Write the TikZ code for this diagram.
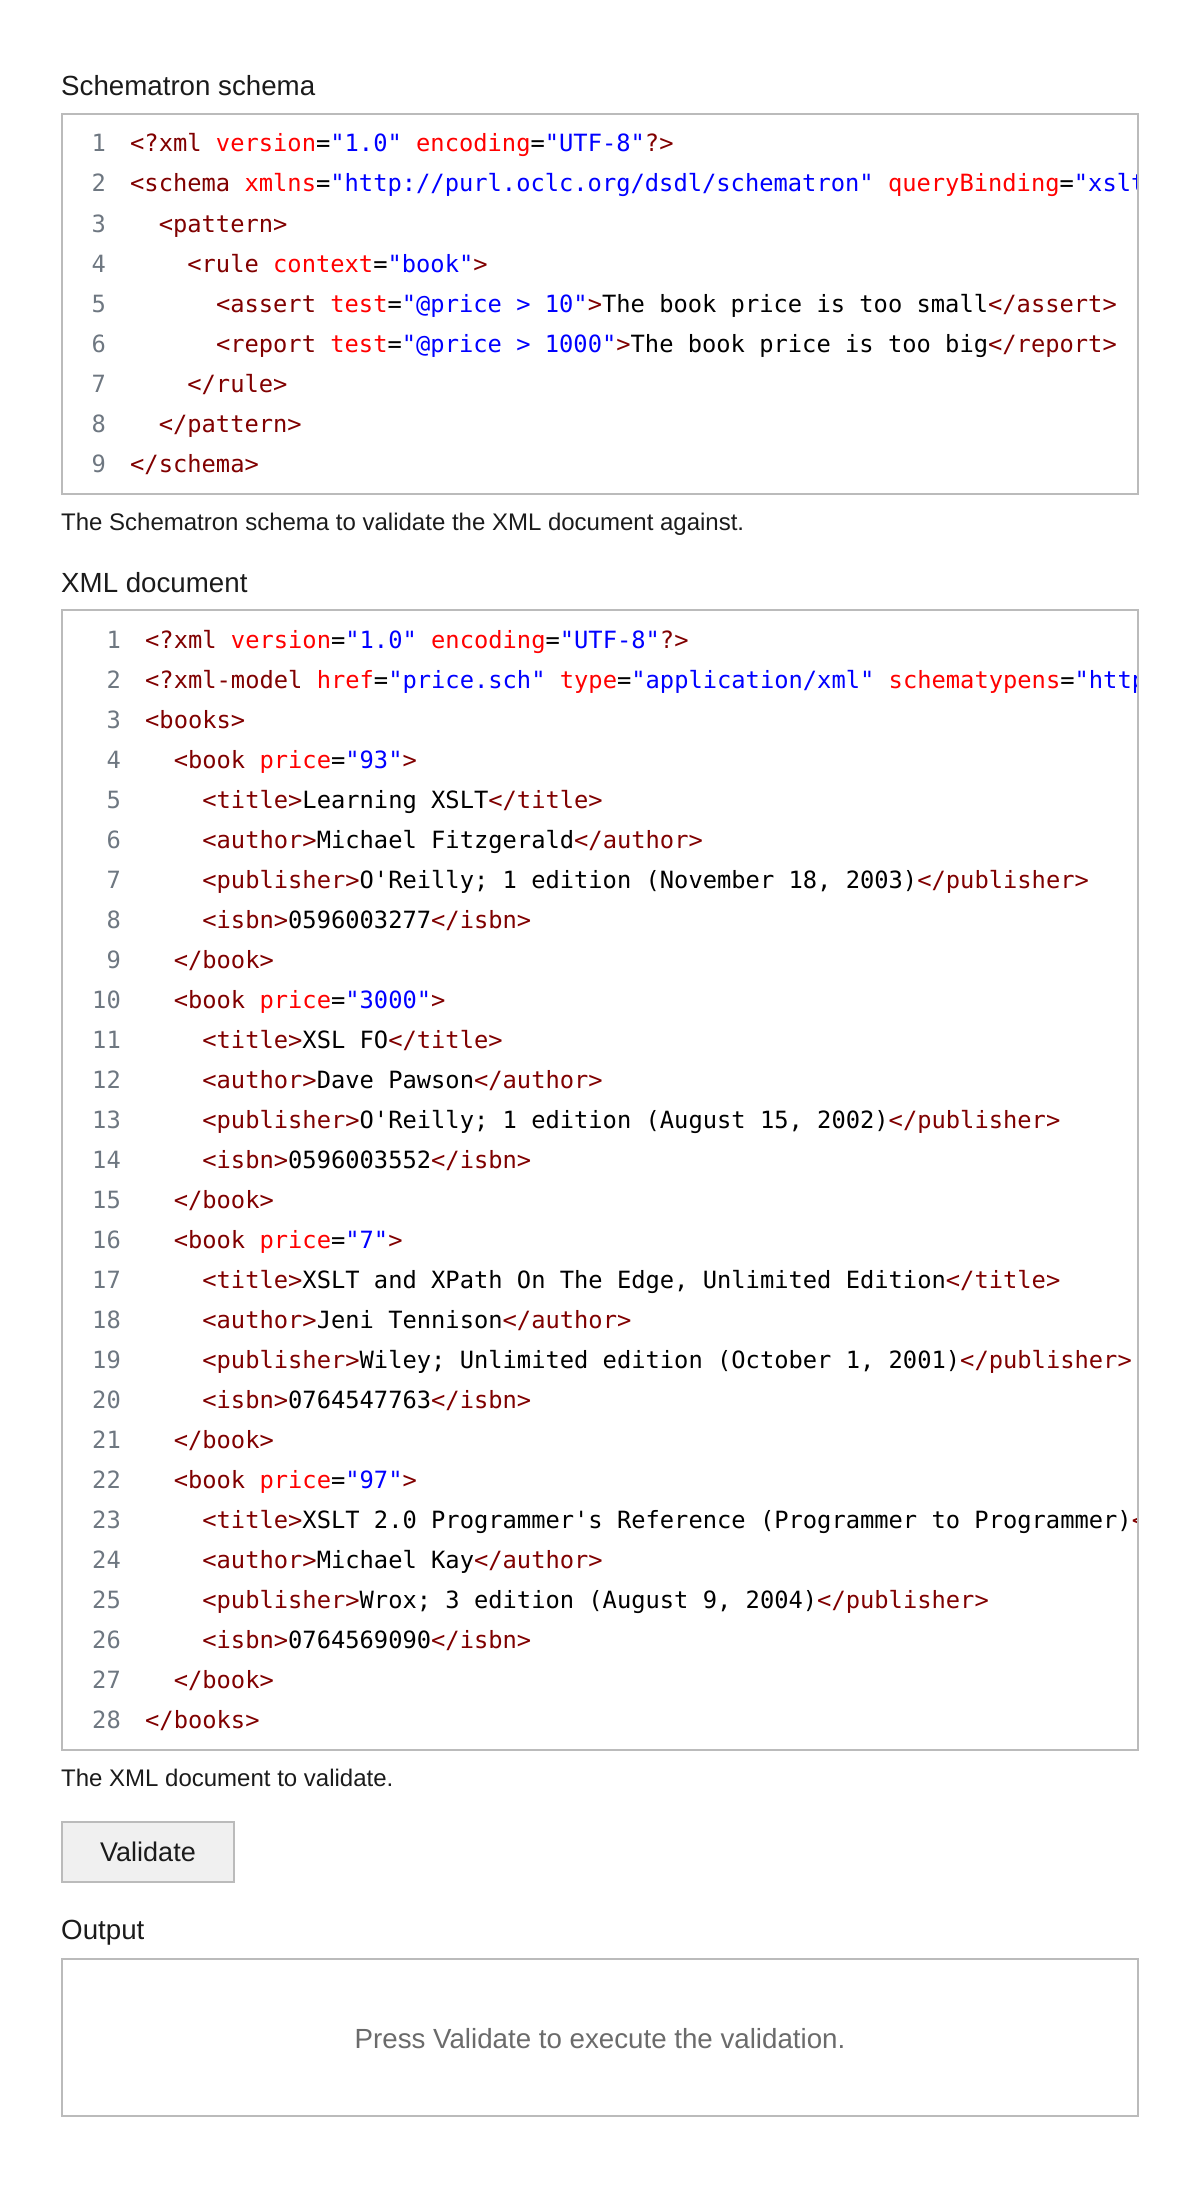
\documentclass[tikz,border=0pt]{standalone}
\usepackage{fontspec}
\setmainfont{Liberation Sans}
\newfontfamily\codefont{DejaVu Sans Mono}[Ligatures=TeXOff]
\definecolor{xmlTagRed}{HTML}{800000}
\definecolor{xmlAttrRed}{HTML}{FF0000}
\definecolor{xmlValBlue}{HTML}{0000FF}
\definecolor{lineNoGray}{HTML}{6E7781}
\definecolor{frameGray}{HTML}{BBBBBB}
\definecolor{buttonFill}{HTML}{F0F0F0}
\definecolor{inkBlack}{HTML}{1B1B1B}
\definecolor{hintGray}{HTML}{6B6B6B}
\newcommand{\xmlTag}[1]{\textcolor{xmlTagRed}{#1}}
\newcommand{\xmlAttr}[1]{\textcolor{xmlAttrRed}{#1}}
\newcommand{\xmlVal}[1]{\textcolor{xmlValBlue}{#1}}
\tikzset{
  codeline/.style={anchor=base west, inner sep=0pt, text=black, font=\codefont\fontsize{23.75}{28}\selectfont},
  lineno/.style={anchor=base east, inner sep=0pt, text=lineNoGray, font=\codefont\fontsize{23.75}{28}\selectfont},
  sectionTitle/.style={anchor=base west, inner sep=0pt, text=inkBlack, font=\fontsize{27.7}{33}\selectfont},
  sectionCaption/.style={anchor=base west, inner sep=0pt, text=inkBlack, font=\fontsize{24}{29}\selectfont},
  codeframe/.style={draw=frameGray, line width=2pt}
}

\begin{document}
\begin{tikzpicture}[x=1pt, y=-1pt]
  \useasboundingbox (0,0) rectangle (1200,2186);

  \node[sectionTitle] (schemaTitle) at (61,96) {Schematron schema};
  \begin{scope}
    \clip (63,115) rectangle (1137,493);
    \foreach \i in {1,...,9}
      \node[lineno] (sn\i) at (106,{152+40*(\i-1)}) {\i};
    \node[codeline] (s1) at (130,152) {\xmlTag{<?xml} \xmlAttr{version}=\xmlVal{"1.0"} \xmlAttr{encoding}=\xmlVal{"UTF-8"}\xmlTag{?>}};
    \node[codeline] (s2) at (130,192) {\xmlTag{<schema} \xmlAttr{xmlns}=\xmlVal{"http://purl.oclc.org/dsdl/schematron"} \xmlAttr{queryBinding}=\xmlVal{"xslt2"}\xmlTag{>}};
    \node[codeline] (s3) at (158.6,232) {\xmlTag{<pattern>}};
    \node[codeline] (s4) at (187.2,272) {\xmlTag{<rule} \xmlAttr{context}=\xmlVal{"book"}\xmlTag{>}};
    \node[codeline] (s5) at (215.8,312) {\xmlTag{<assert} \xmlAttr{test}=\xmlVal{"@price > 10"}\xmlTag{>}The book price is too small\xmlTag{</assert>}};
    \node[codeline] (s6) at (215.8,352) {\xmlTag{<report} \xmlAttr{test}=\xmlVal{"@price > 1000"}\xmlTag{>}The book price is too big\xmlTag{</report>}};
    \node[codeline] (s7) at (187.2,392) {\xmlTag{</rule>}};
    \node[codeline] (s8) at (158.6,432) {\xmlTag{</pattern>}};
    \node[codeline] (s9) at (130,472) {\xmlTag{</schema>}};
  \end{scope}
  \draw[codeframe] (62,114) rectangle (1138,494);
  \node[sectionCaption] (schemaCaption) at (61,530) {The Schematron schema to validate the XML document against.};

  \node[sectionTitle] (docTitle) at (61,592) {XML document};
  \begin{scope}
    \clip (63,611) rectangle (1137,1749);
    \foreach \i in {1,...,28}
      \node[lineno] (dn\i) at (121,{648+40*(\i-1)}) {\i};
    \node[codeline] (d1) at (145,648) {\xmlTag{<?xml} \xmlAttr{version}=\xmlVal{"1.0"} \xmlAttr{encoding}=\xmlVal{"UTF-8"}\xmlTag{?>}};
    \node[codeline] (d2) at (145,688) {\xmlTag{<?xml-model} \xmlAttr{href}=\xmlVal{"price.sch"} \xmlAttr{type}=\xmlVal{"application/xml"} \xmlAttr{schematypens}=\xmlVal{"http://purl.oclc.org/dsdl/schematron"}\xmlTag{?>}};
    \node[codeline] (d3) at (145,728) {\xmlTag{<books>}};
    \node[codeline] (d4) at (173.6,768) {\xmlTag{<book} \xmlAttr{price}=\xmlVal{"93"}\xmlTag{>}};
    \node[codeline] (d5) at (202.2,808) {\xmlTag{<title>}Learning XSLT\xmlTag{</title>}};
    \node[codeline] (d6) at (202.2,848) {\xmlTag{<author>}Michael Fitzgerald\xmlTag{</author>}};
    \node[codeline] (d7) at (202.2,888) {\xmlTag{<publisher>}O'Reilly; 1 edition (November 18, 2003)\xmlTag{</publisher>}};
    \node[codeline] (d8) at (202.2,928) {\xmlTag{<isbn>}0596003277\xmlTag{</isbn>}};
    \node[codeline] (d9) at (173.6,968) {\xmlTag{</book>}};
    \node[codeline] (d10) at (173.6,1008) {\xmlTag{<book} \xmlAttr{price}=\xmlVal{"3000"}\xmlTag{>}};
    \node[codeline] (d11) at (202.2,1048) {\xmlTag{<title>}XSL FO\xmlTag{</title>}};
    \node[codeline] (d12) at (202.2,1088) {\xmlTag{<author>}Dave Pawson\xmlTag{</author>}};
    \node[codeline] (d13) at (202.2,1128) {\xmlTag{<publisher>}O'Reilly; 1 edition (August 15, 2002)\xmlTag{</publisher>}};
    \node[codeline] (d14) at (202.2,1168) {\xmlTag{<isbn>}0596003552\xmlTag{</isbn>}};
    \node[codeline] (d15) at (173.6,1208) {\xmlTag{</book>}};
    \node[codeline] (d16) at (173.6,1248) {\xmlTag{<book} \xmlAttr{price}=\xmlVal{"7"}\xmlTag{>}};
    \node[codeline] (d17) at (202.2,1288) {\xmlTag{<title>}XSLT and XPath On The Edge, Unlimited Edition\xmlTag{</title>}};
    \node[codeline] (d18) at (202.2,1328) {\xmlTag{<author>}Jeni Tennison\xmlTag{</author>}};
    \node[codeline] (d19) at (202.2,1368) {\xmlTag{<publisher>}Wiley; Unlimited edition (October 1, 2001)\xmlTag{</publisher>}};
    \node[codeline] (d20) at (202.2,1408) {\xmlTag{<isbn>}0764547763\xmlTag{</isbn>}};
    \node[codeline] (d21) at (173.6,1448) {\xmlTag{</book>}};
    \node[codeline] (d22) at (173.6,1488) {\xmlTag{<book} \xmlAttr{price}=\xmlVal{"97"}\xmlTag{>}};
    \node[codeline] (d23) at (202.2,1528) {\xmlTag{<title>}XSLT 2.0 Programmer's Reference (Programmer to Programmer)\xmlTag{</title>}};
    \node[codeline] (d24) at (202.2,1568) {\xmlTag{<author>}Michael Kay\xmlTag{</author>}};
    \node[codeline] (d25) at (202.2,1608) {\xmlTag{<publisher>}Wrox; 3 edition (August 9, 2004)\xmlTag{</publisher>}};
    \node[codeline] (d26) at (202.2,1648) {\xmlTag{<isbn>}0764569090\xmlTag{</isbn>}};
    \node[codeline] (d27) at (173.6,1688) {\xmlTag{</book>}};
    \node[codeline] (d28) at (145,1728) {\xmlTag{</books>}};
  \end{scope}
  \draw[codeframe] (62,610) rectangle (1138,1750);
  \node[sectionCaption] (docCaption) at (61,1786) {The XML document to validate.};

  \node[draw=frameGray, line width=2pt, fill=buttonFill, minimum width=172pt, minimum height=60pt, inner sep=0pt, text=inkBlack, font=\fontsize{27}{32}\selectfont] (validateButton) at (148,1852) {Validate};

  \node[sectionTitle] (outputTitle) at (61,1939) {Output};
  \draw[codeframe] (62,1959) rectangle (1138,2116);
  \node[anchor=base, inner sep=0pt, text=hintGray, font=\fontsize{27.7}{33}\selectfont] (outputHint) at (600,2048) {Press Validate to execute the validation.};
\end{tikzpicture}
\end{document}
